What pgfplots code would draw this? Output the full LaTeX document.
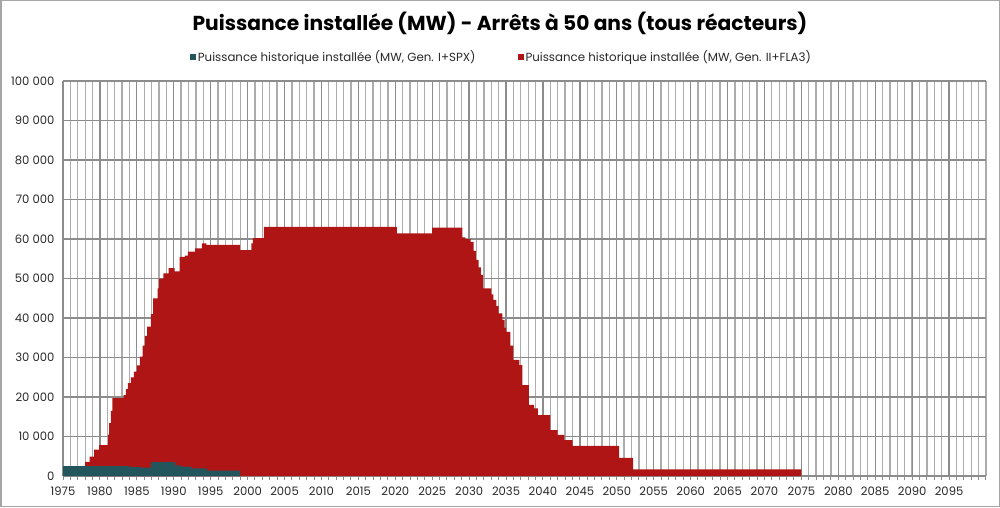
\documentclass[border=0pt]{standalone}
\usepackage{fontspec}
\setmainfont{Poppins}
\usepackage{pgfplots}
\pgfplotsset{compat=1.18}
\definecolor{redA}{RGB}{175,21,21}
\definecolor{tealA}{RGB}{35,85,92}
\definecolor{gridA}{RGB}{172,172,172}
\definecolor{gridB}{RGB}{140,140,140}
\definecolor{txt}{RGB}{40,40,40}
\begin{document}
\begin{tikzpicture}[x=1pt,y=1pt]
\useasboundingbox (0,0) rectangle (1000,507);
\draw[gray!70, line width=1.5pt] (0.75,0.75) rectangle (999.25,506.25);
\node[font=\fontsize{20.2}{24}\selectfont\bfseries] at (500,484) {Puissance installée (MW) - Arrêts à 50 ans (tous réacteurs)};
\begin{axis}[
  at={(63pt,31pt)}, anchor=south west,
  scale only axis, width=923pt, height=395pt,
  xmin=1975, xmax=2100, ymin=0, ymax=100000,
  xtick={1975,1980,...,2095},
  minor xtick={1975,...,2100},
  ytick={0,10000,...,100000},
  yticklabels={0,10 000,20 000,30 000,40 000,50 000,60 000,70 000,80 000,90 000,100 000},
  /pgf/number format/assume math mode=true,
  xticklabel style={/pgf/number format/1000 sep={}},
  scaled y ticks=false,
  ticklabel style={font=\fontsize{11.6}{13}\selectfont, text=txt},
  grid=both,
  major grid style={gridB, line width=1.3pt},
  minor grid style={gridA, line width=1.3pt},
  axis line style={gridB, line width=1.3pt},
  axis lines*=left,
  tick align=outside,
  major tick length=4pt, minor tick length=4pt,
  x tick style={gridB, line width=1pt},
  y tick style={draw=none},
  xticklabel shift=3pt,
  yticklabel shift=1pt,
  legend columns=2,
  legend style={at={(0.475,1.061)}, anchor=center, draw=none, fill=none,
    font=\fontsize{11.8}{13}\selectfont, text=txt,
    /tikz/every even column/.append style={column sep=40pt}},
  legend image code/.code={\fill[#1] (0pt,-3pt) rectangle (6pt,3pt);},
]
\addplot[const plot, fill=redA, draw=none, forget plot] coordinates {
(1978.0,3600) (1978.6,4900) (1979.2,6700) (1979.9,7800) (1981.1,10500)
(1981.25,13400) (1981.5,16500) (1981.7,19700) (1983.2,20500) (1983.5,22000)
(1983.8,23500) (1984.2,25000) (1984.6,26400) (1985.0,28000) (1985.4,30200)
(1985.8,33000) (1986.1,35500) (1986.4,37800) (1986.9,41000) (1987.2,45000)
(1987.8,47500) (1988.0,50000) (1988.6,51300) (1989.3,52600) (1990.1,51800)
(1990.8,55500) (1991.5,55800) (1991.9,56800) (1992.9,57600) (1993.8,58900)
(1994.4,58500) (1999.0,57200) (2000.5,58900) (2000.7,60200) (2002.2,63100)
(2020.2,61400) (2025.0,62900) (2029.1,60400) (2029.5,60000) (2030.2,59300)
(2030.6,57000) (2030.9,54700) (2031.3,52800) (2031.6,50900) (2031.9,47500)
(2033.0,46000) (2033.3,44600) (2033.7,43000) (2034.0,41200) (2034.5,39500)
(2034.8,37500) (2035.0,36500) (2035.6,33000) (2036.0,29400) (2036.8,28100)
(2037.2,23000) (2038.1,18000) (2038.8,17100) (2039.3,15400) (2041.0,11600)
(2042.0,10400) (2042.9,9100) (2044.0,7600) (2050.3,4600) (2052.2,1700)
(2075.0,1700)
} \closedcycle;
\addplot[const plot, fill=tealA, draw=none, forget plot] coordinates {
(1975.0,2500) (1984.0,2300) (1985.5,2100) (1986.9,3500) (1990.2,2700)
(1991.0,2400) (1992.4,1950) (1994.5,1350) (1999.0,1350)
} \closedcycle;
\addlegendimage{fill=tealA, draw=none}
\addlegendentry{Puissance historique installée (MW, Gen. I+SPX)}
\addlegendimage{fill=redA, draw=none}
\addlegendentry{Puissance historique installée (MW, Gen. II+FLA3)}
\end{axis}
\end{tikzpicture}
\end{document}
